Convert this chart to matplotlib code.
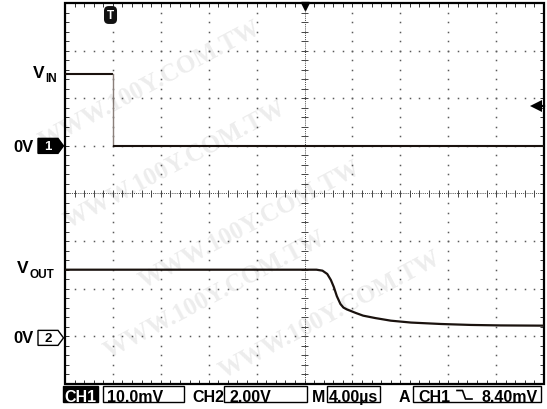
import numpy as np
import matplotlib
matplotlib.use('Agg')
import matplotlib.pyplot as plt
from matplotlib.patches import Rectangle, Polygon
from matplotlib.transforms import blended_transform_factory

# ---------------- data ----------------
vin_time_us = [-4.0, 0.0, 0.0, 36.0]
vin_mv = [15.0, 15.0, 0.0, 0.0]

vout_time_us = [-4.0, 17.0, 17.5, 17.9, 18.2, 18.45, 18.7, 19.0, 19.25, 19.55,
                20.3, 20.9, 21.9, 23.2, 24.9, 27.4, 29.9, 32.4, 36.0]
vout_v = [2.80, 2.80, 2.76, 2.62, 2.37, 2.07, 1.69, 1.36, 1.21, 1.13,
          0.98, 0.87, 0.77, 0.66, 0.58, 0.52, 0.48, 0.46, 0.45]

ch1_scale_mv = 10.0
ch2_scale_v = 2.00
time_scale_us = 4.00
trig_level_mv = 8.40
ch1_zero_div = 1
ch2_zero_div = -3
trig_div_from_left = 1

status_ch1 = "10.0mV"
status_ch2 = "2.00V"
status_time = "4.00\u00b5s"
status_trig = "8.40mV"

# ---------------- layout ----------------
W, H = 547, 410
L, R, T, B = 65, 544, 4, 385
FONT = 'Liberation Sans'

fig = plt.figure(figsize=(W / 100, H / 100), dpi=100)
fig.patch.set_facecolor('white')


def fx(x):
    return x / W


def fy(y):
    return 1 - y / H


pos = [fx(L), fy(B), (R - L) / W, (B - T) / H]

ax0 = fig.add_axes(pos)
ax0.set_xlim(0, 10)
ax0.set_ylim(-4, 4)
ax0.axis('off')

xmin = -trig_div_from_left * time_scale_us
xmax = (10 - trig_div_from_left) * time_scale_us

ax1 = fig.add_axes(pos)
ax1.set_xlim(xmin, xmax)
ax1.set_ylim((-4 - ch1_zero_div) * ch1_scale_mv, (4 - ch1_zero_div) * ch1_scale_mv)
ax1.axis('off')
ax1.patch.set_visible(False)

ax2 = fig.add_axes(pos)
ax2.set_xlim(xmin, xmax)
ax2.set_ylim((-4 - ch2_zero_div) * ch2_scale_v, (4 - ch2_zero_div) * ch2_scale_v)
ax2.axis('off')
ax2.patch.set_visible(False)

# ---------------- graticule ----------------
dot_c = '#5a5a5a'
sub = np.round(np.arange(0.2, 8.0, 0.2) - 4, 3)
subx = np.round(np.arange(0.2, 10.0, 0.2), 3)
for i in range(1, 10):
    if i == 5:
        continue
    ax0.plot(np.full_like(sub, i), sub, 's', ms=1.1, mew=0, color=dot_c)
for j in range(-3, 4):
    if j == 0:
        continue
    ax0.plot(subx, np.full_like(subx, j), 's', ms=1.1, mew=0, color=dot_c)

# centre cross
ax0.plot([0, 10], [0, 0], ls=(0, (1, 1.2)), lw=0.7, color='#444')
ax0.plot([5, 5], [-4, 4], ls=(0, (1, 1.2)), lw=0.7, color='#444')
tk = 0.08
ax0.vlines(subx, -tk, tk, lw=0.7, color='#444')
ax0.hlines(sub, 5 - tk, 5 + tk, lw=0.7, color='#444')
# edge ticks
ax0.vlines(subx, 4 - tk, 4, lw=0.7, color='#333')
ax0.vlines(subx, -4, -4 + tk, lw=0.7, color='#333')
ax0.hlines(sub, 0, tk, lw=0.7, color='#333')
ax0.hlines(sub, 10 - tk, 10, lw=0.7, color='#333')

ax0.add_patch(Rectangle((0, -4), 10, 8, fill=False, lw=1.6, ec='black',
                        clip_on=False, zorder=5))

# top centre marker
ax0.plot([5], [3.93], marker='v', ms=6, color='black', clip_on=False, zorder=6)

# ---------------- traces ----------------
trace_c = '#1a120e'
ax1.plot(vin_time_us[:2], vin_mv[:2], color=trace_c, lw=1.5, solid_capstyle='butt', zorder=4)
ax1.plot(vin_time_us[1:3], vin_mv[1:3], color='#8a7f7a', lw=1.0, zorder=4)
ax1.plot(vin_time_us[2:], vin_mv[2:], color=trace_c, lw=1.5, solid_capstyle='butt', zorder=4)
ax2.plot(vout_time_us, vout_v, color=trace_c, lw=1.6, zorder=4)

# trigger position marker "T"
tr1 = blended_transform_factory(ax1.transData, ax1.transAxes)
ax1.text(-0.2, (B - 16) / (B - T), 'T', transform=tr1, ha='center', va='center',
         color='white', fontsize=8.5, fontweight='bold', family=FONT,
         bbox=dict(boxstyle='round,pad=0.25,rounding_size=0.4', fc='#111', ec='none'))

# trigger level marker on right
tr2 = blended_transform_factory(ax1.transAxes, ax1.transData)
ax1.plot([0.984, 1.0], [trig_level_mv, trig_level_mv], color='black', lw=1.6,
         transform=tr2, clip_on=False)
ax1.plot([0.984], [trig_level_mv], marker='<', ms=8, color='black', mew=0,
         transform=tr2, clip_on=False)

# ---------------- left labels & channel markers ----------------
def data_py(ax, yval):
    disp = ax.transData.transform((0, yval))[1]
    return H - disp * 100 / fig.dpi


y1 = data_py(ax1, 0)
y2 = data_py(ax2, 0)
yin = data_py(ax1, vin_mv[0])
yout = data_py(ax2, vout_v[0])


def marker(yc, num, filled):
    pts = [(38, yc - 7.5), (58, yc - 7.5), (63.5, yc), (58, yc + 7.5), (38, yc + 7.5)]
    poly = Polygon([(fx(a), fy(b)) for a, b in pts], closed=True,
                   transform=fig.transFigure,
                   fc='black' if filled else 'white', ec='black', lw=1.0)
    fig.add_artist(poly)
    fig.text(fx(48), fy(yc), num, ha='center', va='center', fontsize=9.5,
             fontweight='bold', family=FONT,
             color='white' if filled else 'black')


marker(y1, '1', True)
marker(y2 + 1.5, '2', False)
fig.text(fx(13), fy(y1 + 0.5), '0V', ha='left', va='center', fontsize=12,
         fontweight='bold', family=FONT)
fig.text(fx(13), fy(y2 + 1.5), '0V', ha='left', va='center', fontsize=12,
         fontweight='bold', family=FONT)

fig.text(fx(33), fy(yin - 2), 'V', ha='left', va='center', fontsize=12.5,
         fontweight='bold', family=FONT)
fig.text(fx(45.5), fy(yin + 3.5), 'IN', ha='left', va='center', fontsize=8.5,
         fontweight='bold', family=FONT)
fig.text(fx(17), fy(yout - 2), 'V', ha='left', va='center', fontsize=12.5,
         fontweight='bold', family=FONT)
fig.text(fx(29.5), fy(yout + 4), 'OUT', ha='left', va='center', fontsize=8.5,
         fontweight='bold', family=FONT)

# ---------------- status bar ----------------
BY0, BY1 = 387, 403
base = 402
fs = 11.5


def box(x0, x1, fill=False):
    fig.add_artist(Rectangle((fx(x0), fy(BY1)), (x1 - x0) / W, (BY1 - BY0) / H,
                             transform=fig.transFigure, fill=fill,
                             fc='black' if fill else 'none', ec='black', lw=1.0))


def stxt(x, s, ha='left', color='black'):
    fig.text(fx(x), fy(base), s, ha=ha, va='baseline', fontsize=fs,
             fontweight='bold', family=FONT, color=color)


box(63, 98, fill=True)
stxt(80.5, 'CH1', ha='center', color='white')
box(102.7, 184.3)
stxt(106.5, status_ch1)
stxt(192, 'CH2')
box(224, 307)
stxt(229.5, status_ch2)
stxt(311.5, 'M')
box(326.5, 380)
stxt(328.5, status_time)
stxt(399, 'A')
box(412.7, 541)
stxt(418, 'CH1')
stxt(538, status_trig, ha='right')
edge = [(457, 391.5), (462.5, 391.5), (465.5, 400), (472, 400)]
fig.add_artist(plt.Line2D([fx(a) for a, b in edge], [fy(b) for a, b in edge],
                          transform=fig.transFigure, color='black', lw=1.2))

# ---------------- watermark ----------------
wm = 'WWW.100Y.COM.TW'
for cx, cy in [(150, 85), (175, 165), (250, 225), (215, 295), (330, 315)]:
    fig.text(fx(cx), fy(cy), wm, ha='center', va='center', rotation=28,
             fontsize=18, fontweight='bold', family='Liberation Serif',
             color='black', alpha=0.075, zorder=20)

fig.savefig('out.png', dpi=100, facecolor='white')
